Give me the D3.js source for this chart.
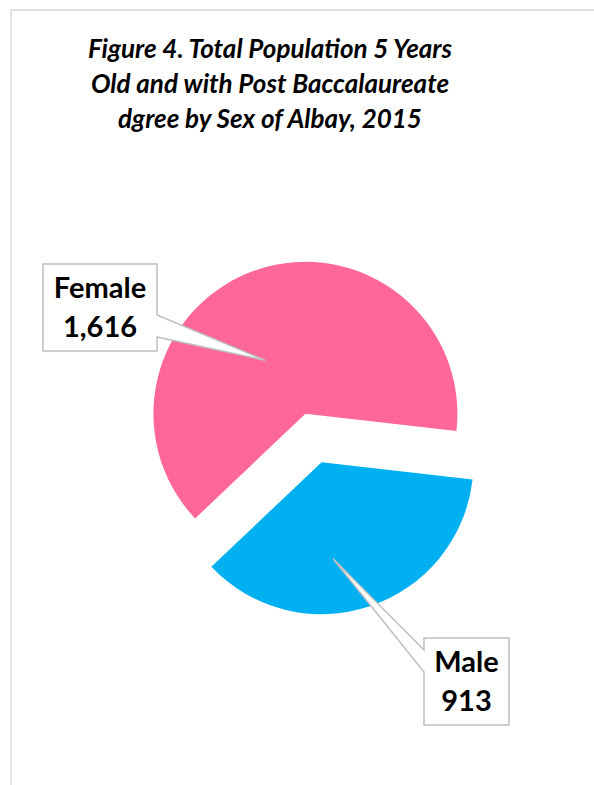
<!DOCTYPE html>
<html>
<head>
<meta charset="utf-8">
<script src="https://cdn.jsdelivr.net/npm/d3@7"></script>
<style>
  html, body { margin: 0; padding: 0; background: #fff; }
  svg { display: block; }
</style>
</head>
<body>
<div id="chart"></div>
<script>
// data
const categories = ['Female', 'Male'];
const values = [1616, 913];
const colors = ['#FF6699', '#00B0F0'];
const titleLines = [
    'Figure 4. Total Population 5 Years',
    'Old and with Post Baccalaureate',
    'dgree by Sex of Albay, 2015'
];

const width = 594, height = 785;
const radius = 152;
const center = { x: 313.5, y: 438 };
const explode = 25.5;
const deg = Math.PI / 180;

// callout boxes (layout only)
const callouts = [
    { box: [43, 264, 157, 351], side: 'right', wedge: [315, 337], frac: 0.42, rfrac: 0.44 },
    { box: [424, 638, 509, 725], side: 'left', wedge: [650, 672], frac: 0.59, rfrac: 0.64 }
];

const svg = d3.select('#chart').append('svg')
    .attr('width', width)
    .attr('height', height);

// chart area border
svg.append('rect')
    .attr('x', 11).attr('y', 10)
    .attr('width', 620).attr('height', 820)
    .attr('fill', 'none')
    .attr('stroke', '#d9d9d9')
    .attr('stroke-width', 1.5);

// title
svg.append('text')
    .attr('text-anchor', 'middle')
    .style('font-family', 'Lato, "Open Sans", sans-serif')
    .style('font-weight', 'bold')
    .style('font-style', 'italic')
    .style('font-size', '26px')
    .selectAll('tspan')
    .data(titleLines)
    .enter().append('tspan')
    .attr('x', 270)
    .attr('y', (d, i) => 58 + i * 35)
    .text(d => d);

const pie = d3.pie()
    .sort(null)
    .startAngle(226.5 * deg)
    .endAngle(586.5 * deg);

const arcs = pie(values);
const arc = d3.arc().innerRadius(0).outerRadius(radius);

// offset of each slice along its bisector (d3 angle: 0 at top, clockwise)
function polar(a, r) {
    return [Math.sin(a) * r, -Math.cos(a) * r];
}

arcs.forEach((d, i) => {
    const mid = (d.startAngle + d.endAngle) / 2;
    const off = polar(mid, explode);
    d.cx = center.x + off[0];
    d.cy = center.y + off[1];
});

svg.selectAll('.slice')
    .data(arcs)
    .enter().append('path')
    .attr('class', 'slice')
    .attr('transform', d => `translate(${d.cx},${d.cy})`)
    .attr('d', arc)
    .attr('fill', (d, i) => colors[i]);

// callouts
const fmt = d3.format(',');
arcs.forEach((d, i) => {
    const c = callouts[i];
    const a = d.startAngle + (d.endAngle - d.startAngle) * c.frac;
    const p = polar(a, radius * c.rfrac);
    const tip = [d.cx + p[0], d.cy + p[1]];
    const [x0, y0, x1, y1] = c.box;
    let path;
    if (c.side === 'right') {
        path = `M${x0},${y0}H${x1}V${c.wedge[0]}L${tip[0]},${tip[1]}L${x1},${c.wedge[1]}V${y1}H${x0}Z`;
    } else {
        path = `M${x0},${y0}H${x1}V${y1}H${x0}V${c.wedge[1]}L${tip[0]},${tip[1]}L${x0},${c.wedge[0]}Z`;
    }
    svg.append('path')
        .attr('d', path)
        .attr('fill', '#fff')
        .attr('stroke', '#bfbfbf')
        .attr('stroke-width', 1.5)
        .attr('stroke-linejoin', 'miter');

    const cx = (x0 + x1) / 2;
    const t = svg.append('text')
        .attr('text-anchor', 'middle')
        .style('font-family', 'Lato, "Open Sans", sans-serif')
        .style('font-weight', 'bold')
        .style('font-size', '29px')
        .attr('fill', '#000');
    t.append('tspan').attr('x', cx).attr('y', y0 + 34).text(categories[i]);
    t.append('tspan').attr('x', cx).attr('y', y0 + 73).text(fmt(values[i]));
});
</script>
</body>
</html>
